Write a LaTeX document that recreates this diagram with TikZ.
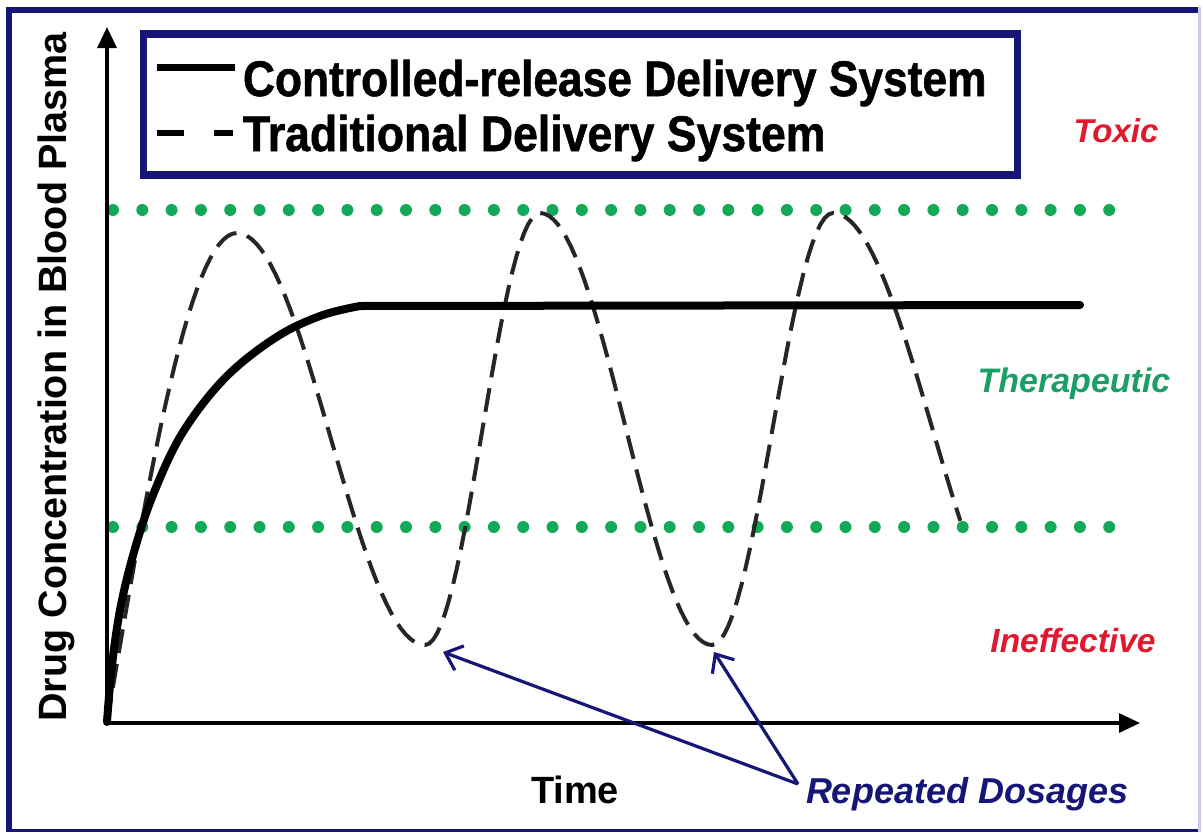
\documentclass[tikz,border=0pt]{standalone}
\usepackage{fontspec}
\setmainfont{Liberation Sans}
\newfontfamily\heavyfont[FakeBold=1.2]{Liberation Sans Bold}
\usetikzlibrary{arrows.meta}
\definecolor{navy}{RGB}{22,22,118}
\definecolor{framefaint}{RGB}{205,205,235}
\definecolor{dotgreen}{RGB}{18,170,86}
\definecolor{thergreen}{RGB}{28,158,104}
\definecolor{alertred}{RGB}{224,26,46}
\definecolor{dashgray}{RGB}{38,38,38}
\tikzset{
  lbl/.style={inner sep=0pt, outer sep=0pt},
  legendtext/.style={lbl, anchor=base west, font=\fontsize{50}{54}\heavyfont},
  zonelabel/.style={lbl, anchor=base, font=\fontsize{34}{38}\selectfont\bfseries\itshape},
  axis/.style={line width=3.2pt, -{Triangle[length=21pt,width=19pt]}},
  dosearrow/.style={navy, line width=3.2pt, -{Straight Barb[length=15pt,width=26pt,line width=3.2pt]}},
  levelline/.style={dotgreen},
  controlled/.style={line width=8pt, line cap=round, line join=round},
  traditional/.style={dashgray, line width=4pt, dash pattern=on 24pt off 11pt}
}
\begin{document}
\begin{tikzpicture}[x=1pt,y=-1pt]
\useasboundingbox (0,0) rectangle (1203,833);
\fill[white] (0,0) rectangle (1203,833);

% outer frame
\fill[navy] (6,7) rectangle (1201,13);
\fill[navy] (6,7) rectangle (12,832);
\fill[navy] (6,829) rectangle (1201,832);
\fill[framefaint] (1198,7) rectangle (1201,832);

% dotted concentration limits
\foreach \i in {0,...,34} {
  \fill[levelline] (113+\i*29.3,210) circle (6pt);
  \fill[levelline] (113+\i*29.3,527) circle (6pt);
}

% axes
\coordinate (origin) at (107,723);
\coordinate (ytip) at (107,27);
\coordinate (xtip) at (1140,723);
\draw[axis] (origin) -- (ytip);
\draw[axis] (origin) -- (xtip);

% traditional delivery: repeated doses
\draw[traditional]
  plot[domain=0:1, samples=30] ({107+130*\x},{722-489*sin(90*\x)})
  -- plot[domain=0:1, samples=40] ({237+188*\x},{233+412*(1-cos(180*\x))/2})
  -- plot[domain=0:1, samples=30] ({425+115*\x},{645-432*(1-cos(180*\x))/2})
  -- plot[domain=0:1, samples=40] ({540+172*\x},{213+432*(1-cos(180*\x))/2})
  -- plot[domain=0:1, samples=30] ({712+121*\x},{645-432*(1-cos(180*\x))/2})
  -- plot[domain=0:0.64, samples=30] ({833+199*\x},{213+432*(1-cos(180*\x))/2});

% controlled-release delivery
\draw[controlled] plot[smooth, tension=0.6] coordinates {
  (107,722) (112,665) (121,605) (136,545) (155,490) (183,432)
  (225,378) (275,338) (320,316) (360,306)} -- (1080,305);

% zone labels
\node[zonelabel, text=alertred, font=\fontsize{33}{38}\selectfont\bfseries\itshape] (toxic) at (1116,142) {Toxic};
\node[zonelabel, text=thergreen] (thera) at (1074,392) {Therapeutic};
\node[zonelabel, text=alertred, font=\fontsize{33.5}{38}\selectfont\bfseries\itshape] (ineff) at (1073,652) {Ineffective};

% axis titles
\node[lbl, rotate=90, anchor=base, font=\fontsize{39.5}{44}\selectfont\bfseries] (ylab) at (66,377) {Drug Concentration in Blood Plasma};
\node[lbl, anchor=base, font=\fontsize{38}{42}\selectfont\bfseries] (time) at (575,803) {Time};

% repeated dosages callout
\node[lbl, anchor=base west, text=navy, font=\fontsize{36}{40}\selectfont\bfseries\itshape] (doses) at (806,803) {Repeated Dosages};
\coordinate (dosetail) at (798,784);
\coordinate (trough1) at (443,652);
\coordinate (trough2) at (714,652);
\draw[dosearrow] (dosetail) -- (trough1);
\draw[dosearrow] (dosetail) -- (trough2);

% legend
\node[draw=navy, line width=7.5pt, minimum width=874pt, minimum height=141pt, anchor=north west, lbl] (legend) at (143.5,34) {};
\draw[line width=7pt] (157,67) -- (235,67);
\draw[line width=6.5pt] (157,133) -- (184,133) (214,133) -- (233,133);
\node[legendtext] (lgsolid) at (243,96) {\scalebox{0.886}[1]{Controlled-release Delivery System}};
\node[legendtext] (lgdash) at (243,151) {\scalebox{0.892}[1]{Traditional Delivery System}};
\end{tikzpicture}
\end{document}
